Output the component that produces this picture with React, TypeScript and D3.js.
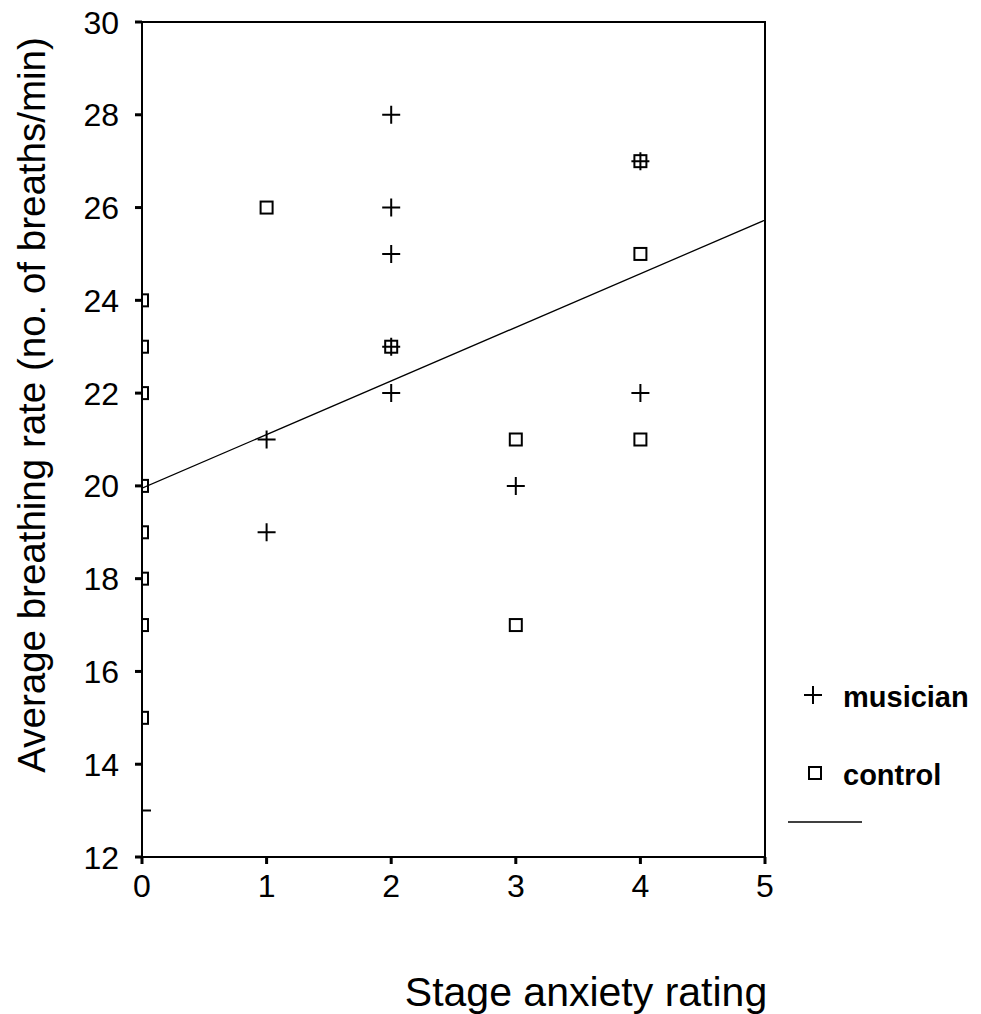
import React, { useEffect, useRef } from "react";
import * as d3 from "d3";

// values
const musicianX = [0, 1, 1, 2, 2, 2, 2, 2, 3, 4, 4];
const musicianY = [13, 21, 19, 28, 26, 25, 23, 22, 20, 27, 22];
const controlX = [0, 0, 0, 0, 0, 0, 0, 0, 1, 2, 3, 3, 4, 4, 4];
const controlY = [24, 23, 22, 20, 19, 18, 17, 15, 26, 23, 21, 17, 27, 25, 21];
const xTicks = [0, 1, 2, 3, 4, 5];
const yTicks = [12, 14, 16, 18, 20, 22, 24, 26, 28, 30];
// fitted line, read at x = 0 and x = 5
const fitX = [0, 5];
const fitY = [19.95, 25.73];

const font = "'Liberation Sans', Arial, sans-serif";

export default function App() {
  const ref = useRef<SVGSVGElement>(null);

  useEffect(() => {
    const svg = d3.select(ref.current);
    svg.selectAll("*").remove();

    const left = 142, right = 765, top = 22, bottom = 857;
    const x = d3.scaleLinear().domain([0, 5]).range([left, right]);
    const y = d3.scaleLinear().domain([12, 30]).range([bottom, top]);

    svg.append("defs").append("clipPath").attr("id", "plot")
      .append("rect")
      .attr("x", left).attr("y", top - 10)
      .attr("width", right - left).attr("height", bottom - top + 20);

    // frame
    svg.append("rect")
      .attr("x", left).attr("y", top)
      .attr("width", right - left).attr("height", bottom - top)
      .attr("fill", "none").attr("stroke", "#000").attr("stroke-width", 2);

    // y ticks
    svg.selectAll(".yt").data(yTicks).enter().append("line")
      .attr("x1", left - 7).attr("x2", left)
      .attr("y1", (d) => y(d)).attr("y2", (d) => y(d))
      .attr("stroke", "#000").attr("stroke-width", 3);
    svg.selectAll(".yl").data(yTicks).enter().append("text")
      .attr("x", 119).attr("y", (d) => y(d))
      .attr("dy", "0.36em")
      .attr("text-anchor", "end")
      .attr("font-family", font).attr("font-size", 32)
      .text((d) => d);

    // x ticks
    svg.selectAll(".xt").data(xTicks).enter().append("line")
      .attr("x1", (d) => x(d)).attr("x2", (d) => x(d))
      .attr("y1", bottom).attr("y2", bottom + 7)
      .attr("stroke", "#000").attr("stroke-width", 3);
    svg.selectAll(".xl").data(xTicks).enter().append("text")
      .attr("x", (d) => x(d)).attr("y", 897)
      .attr("text-anchor", "middle")
      .attr("font-family", font).attr("font-size", 32)
      .text((d) => d);

    const g = svg.append("g").attr("clip-path", "url(#plot)");

    // fit line
    g.append("path")
      .datum(fitX.map((v, i) => [v, fitY[i]] as [number, number]))
      .attr("fill", "none").attr("stroke", "#000").attr("stroke-width", 1.3)
      .attr("d", d3.line().x((d) => x(d[0])).y((d) => y(d[1])));

    // control squares
    g.selectAll(".c").data(controlX.map((v, i) => [v, controlY[i]])).enter()
      .append("rect")
      .attr("x", (d) => x(d[0]) - 6).attr("y", (d) => y(d[1]) - 6)
      .attr("width", 12).attr("height", 12)
      .attr("fill", "none").attr("stroke", "#000").attr("stroke-width", 2);

    // musician pluses
    g.selectAll(".m").data(musicianX.map((v, i) => [v, musicianY[i]])).enter()
      .append("path")
      .attr("d", "M-9,0H9M0,-9V9")
      .attr("transform", (d) => `translate(${x(d[0])},${y(d[1])})`)
      .attr("stroke", "#000").attr("stroke-width", 2).attr("fill", "none");

    // axis titles
    svg.append("text")
      .attr("x", 586).attr("y", 1006)
      .attr("text-anchor", "middle")
      .attr("font-family", font).attr("font-size", 41)
      .text("Stage anxiety rating");
    svg.append("text")
      .attr("transform", "translate(45,405) rotate(-90)")
      .attr("text-anchor", "middle")
      .attr("font-family", font).attr("font-size", 38.5)
      .text("Average breathing rate (no. of breaths/min)");

    // legend
    svg.append("path").attr("d", "M804,695H822M813,686V704")
      .attr("stroke", "#000").attr("stroke-width", 2);
    svg.append("text").attr("x", 843).attr("y", 707)
      .attr("font-family", font).attr("font-size", 29).attr("font-weight", "bold")
      .text("musician");
    svg.append("rect").attr("x", 809).attr("y", 767).attr("width", 12).attr("height", 12)
      .attr("fill", "none").attr("stroke", "#000").attr("stroke-width", 2);
    svg.append("text").attr("x", 843).attr("y", 785)
      .attr("font-family", font).attr("font-size", 29).attr("font-weight", "bold")
      .text("control");
    svg.append("line").attr("x1", 788).attr("x2", 862).attr("y1", 822).attr("y2", 822)
      .attr("stroke", "#000").attr("stroke-width", 1.5);
  }, []);

  return (
    <svg
      ref={ref}
      width={981}
      height={1014}
      style={{ position: "absolute", left: 0, top: 0, background: "#fff" }}
    />
  );
}
